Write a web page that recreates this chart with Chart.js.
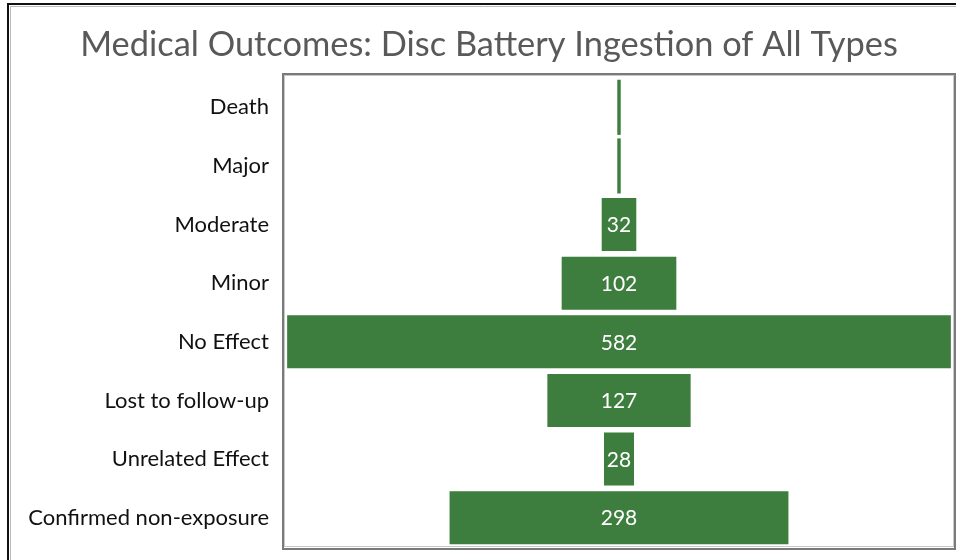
<!DOCTYPE html>
<html>
<head>
<meta charset="utf-8">
<script src="https://cdn.jsdelivr.net/npm/chart.js@4"></script>
<style>
	html, body { margin: 0; padding: 0; background: #fff; overflow: hidden; }
	#wrap { position: relative; width: 956px; height: 560px; }
</style>
</head>
<body>
<div id="wrap"><canvas id="myChart"></canvas></div>
<script>
const chartTitle = "Medical Outcomes: Disc Battery Ingestion of All Types";
const outcomes = ["Death", "Major", "Moderate", "Minor", "No Effect", "Lost to follow-up", "Unrelated Effect", "Confirmed non-exposure"];
const counts = [3, 3, 32, 102, 582, 127, 28, 298];
const showLabel = [false, false, true, true, true, true, true, true];

// funnel: each bar floats centred on zero
const spans = counts.map(v => [-v / 2, v / 2]);

const frames = {
	id: "frames",
	beforeDraw(chart) {
		const ctx = chart.ctx;
		const a = chart.chartArea;
		ctx.save();
		// outer frame (top + left visible)
		ctx.strokeStyle = "#111";
		ctx.lineWidth = 2;
		ctx.beginPath();
		ctx.moveTo(8, 562);
		ctx.lineTo(8, 4);
		ctx.lineTo(958, 4);
		ctx.stroke();
		ctx.strokeStyle = "#bbb";
		ctx.lineWidth = 1;
		ctx.beginPath();
		ctx.moveTo(10.5, 562);
		ctx.lineTo(10.5, 6.5);
		ctx.lineTo(958, 6.5);
		ctx.stroke();
		// plot area frame
		ctx.strokeStyle = "#7a7a7a";
		ctx.lineWidth = 2;
		ctx.strokeRect(a.left - 2, a.top - 4, a.right - a.left + 4, a.bottom - a.top + 6);
		ctx.strokeStyle = "#c8c8c8";
		ctx.lineWidth = 1;
		ctx.strokeRect(a.left - 0.5, a.top - 2.5, a.right - a.left + 1, a.bottom - a.top + 2);
		// title, a little right of centre like the original
		ctx.fillStyle = "#595959";
		ctx.font = "34.4px Lato, 'Open Sans', sans-serif";
		ctx.textAlign = "center";
		ctx.textBaseline = "middle";
		ctx.fillText(chartTitle, 489, 45);
		ctx.restore();
	},
	afterDatasetsDraw(chart) {
		const ctx = chart.ctx;
		const meta = chart.getDatasetMeta(0);
		ctx.save();
		ctx.fillStyle = "#fff";
		ctx.font = "21px Lato, 'Open Sans', sans-serif";
		ctx.textAlign = "center";
		ctx.textBaseline = "middle";
		meta.data.forEach((bar, i) => {
			if (!showLabel[i]) return;
			const cx = chart.scales.x.getPixelForValue(0);
			ctx.fillText(String(counts[i]), cx, bar.y + 1);
		});
		ctx.restore();
	}
};

new Chart("myChart", {
	type: "bar",
	data: {
		labels: outcomes,
		datasets: [
			{
				label: "Outcomes",
				data: spans,
				backgroundColor: "#3d7d3d",
				borderColor: "rgba(255,255,255,0.4)",
				// thin bars would vanish under the edge line
				borderWidth: (c) => counts[c.dataIndex] < 10 ? 0 : 1,
				borderSkipped: false,
				categoryPercentage: 1,
				barPercentage: 0.94
			}
		]
	},
	options: {
		indexAxis: "y",
		responsive: true,
		maintainAspectRatio: false,
		animation: false,
		layout: {
			padding: { top: 78, right: 3, bottom: 13, left: 0 }
		},
		scales: {
			x: {
				display: false,
				min: -292,
				max: 292
			},
			y: {
				grid: { display: false, drawTicks: false },
				border: { display: false },
				ticks: {
					color: "#111",
					padding: 16,
					font: { family: "Lato, 'Open Sans', sans-serif", size: 22 }
				},
				afterFit(scale) {
					scale.width = 285;
					scale.paddingTop = 0;
					scale.paddingBottom = 0;
				}
			}
		},
		plugins: {
			legend: { display: false },
			tooltip: { enabled: false },
			title: { display: false }
		}
	},
	plugins: [frames]
});
</script>
</body>
</html>
